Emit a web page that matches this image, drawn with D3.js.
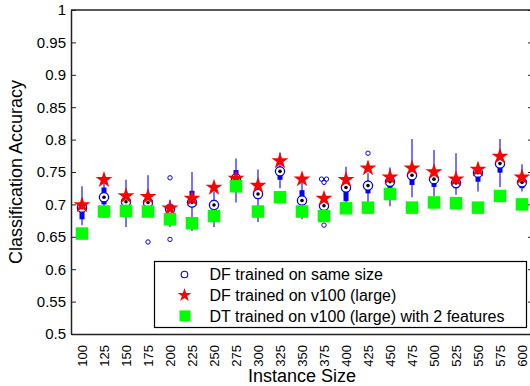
<!DOCTYPE html>
<html>
<head>
<meta charset="utf-8">
<script src="https://cdn.jsdelivr.net/npm/d3@7"></script>
<style>
  body { margin: 0; background: #fff; }
  text { font-family: "Liberation Sans", Arial, sans-serif; fill: #000; }
</style>
</head>
<body>
<script>
// instance sizes along x
const sizes = ["100","125","150","175","200","225","250","275","300","325","350",
               "375","400","425","450","475","500","525","550","575","600"];

// DF trained on same size -> box stats
const whiskerLow  = [0.668,0.679,0.665,0.681,0.665,0.659,0.665,0.703,0.673,0.725,0.677,
                     0.680,0.700,0.704,0.697,0.711,0.712,0.715,0.720,0.727,0.720];
const q1          = [0.677,0.700,0.700,0.699,0.688,0.699,0.692,0.735,0.709,0.738,0.702,
                     0.693,0.705,0.717,0.724,0.730,0.727,0.725,0.735,0.749,0.725];
const medians     = [0.695,0.711,0.704,0.703,0.693,0.703,0.699,0.740,0.716,0.751,0.706,
                     0.698,0.726,0.729,0.735,0.745,0.739,0.733,0.749,0.763,0.734];
const q3          = [0.700,0.726,0.709,0.708,0.700,0.721,0.707,0.753,0.722,0.758,0.722,
                     0.705,0.732,0.735,0.745,0.750,0.745,0.738,0.752,0.767,0.740];
const whiskerHigh = [0.728,0.748,0.738,0.745,0.707,0.750,0.720,0.771,0.754,0.780,0.733,
                     0.715,0.758,0.748,0.757,0.801,0.784,0.779,0.763,0.801,0.762];
const outliers    = [[],[],[],[0.642],[0.741,0.646],[],[],[],[],[],[],
                     [0.739,0.739,0.734,0.668],[],[0.779],[],[],[],[],[],[],[]];

// DF trained on v100 (large)
const starVals   = [0.699,0.738,0.713,0.712,0.694,0.709,0.726,0.740,0.729,0.767,0.739,
                    0.709,0.738,0.756,0.742,0.756,0.750,0.739,0.754,0.774,0.742];
// DT trained on v100 (large) with 2 features
const squareVals = [0.655,0.689,0.690,0.689,0.677,0.671,0.682,0.728,0.689,0.711,0.689,
                    0.682,0.694,0.695,0.716,0.695,0.703,0.702,0.695,0.713,0.700];

const yTicks = [0.5,0.55,0.6,0.65,0.7,0.75,0.8,0.85,0.9,0.95,1];
const legendLabels = ["DF trained on same size","DF trained on v100 (large)",
                      "DT trained on v100 (large) with 2 features"];

const width = 530, height = 386;
const plot = { left: 71, right: 533, top: 10, bottom: 334 };

const svg = d3.select("body").append("svg")
  .attr("xmlns","http://www.w3.org/2000/svg")
  .attr("width", width)
  .attr("height", height);

const x = d3.scaleBand().domain(sizes).range([plot.left, plot.right]).padding(0);
const cx = d => x(d) + x.bandwidth()/2;
const y = d3.scaleLinear().domain([0.5, 1]).range([plot.bottom, plot.top]);

// axes
const yAxis = d3.axisLeft(y).tickValues(yTicks).tickFormat(d3.format("~g"))
  .tickSizeInner(-5).tickSizeOuter(0).tickPadding(5);
const gy = svg.append("g").attr("transform", `translate(${plot.left},0)`).call(yAxis);
gy.selectAll("text").style("font-size","15px");

const yRight = d3.axisRight(y).tickValues(yTicks).tickFormat("")
  .tickSizeInner(-5).tickSizeOuter(0);
svg.append("g").attr("transform", `translate(${plot.right},0)`).call(yRight);

const xAxis = d3.axisBottom(x).tickSizeInner(0).tickSizeOuter(0).tickPadding(0);
const gx = svg.append("g").attr("transform", `translate(0,${plot.bottom})`).call(xAxis);
gx.selectAll("text")
  .style("font-size","13px")
  .attr("text-anchor","end")
  .attr("y", 0).attr("dy","0.35em")
  .attr("transform","translate(0,11) rotate(-90)")
  .attr("x", 0);

// top line to close the box
svg.append("line")
  .attr("x1", plot.left).attr("x2", plot.right)
  .attr("y1", plot.top).attr("y2", plot.top);

svg.selectAll(".domain, line")
  .attr("stroke","#222").attr("stroke-width",1.5);
svg.selectAll(".tick line").attr("stroke-width",1);

// boxplot (compact style)
const boxes = svg.append("g").attr("class","boxes");
sizes.forEach((s, i) => {
  const g = boxes.append("g");
  g.append("line")
    .attr("x1", cx(s)).attr("x2", cx(s))
    .attr("y1", y(whiskerLow[i])).attr("y2", y(whiskerHigh[i]))
    .attr("stroke","#3a3aff").attr("stroke-width",1.4);
  g.append("line")
    .attr("x1", cx(s)).attr("x2", cx(s))
    .attr("y1", y(q1[i])).attr("y2", y(q3[i]))
    .attr("stroke","#0000ff").attr("stroke-width",5);
  // outliers; repeated values get spread sideways
  const seen = {};
  outliers[i].forEach(v => {
    const n = outliers[i].filter(o => o === v).length;
    const k = seen[v] = (seen[v] || 0) + 1;
    const off = n > 1 ? (k - (n + 1)/2) * 5 : 0;
    g.append("circle")
      .attr("cx", cx(s) + off).attr("cy", y(v))
      .attr("r", 2.2)
      .attr("fill","none").attr("stroke","#0000ff").attr("stroke-width",1);
  });
  g.append("circle")
    .attr("cx", cx(s)).attr("cy", y(medians[i])).attr("r", 4.6)
    .attr("fill","#fff").attr("stroke","#0000ff").attr("stroke-width",1.3);
  g.append("circle")
    .attr("cx", cx(s)).attr("cy", y(medians[i])).attr("r", 1.8)
    .attr("fill","#000");
});

// stars
const star = d3.symbol().type(d3.symbolStar).size(88);
svg.append("g").selectAll("path").data(starVals).join("path")
  .attr("d", star)
  .attr("transform", (d, i) => `translate(${cx(sizes[i])},${y(d)})`)
  .attr("fill","#ff0000");

// squares
const sq = 12.5;
svg.append("g").selectAll("rect").data(squareVals).join("rect")
  .attr("x", (d, i) => cx(sizes[i]) - sq/2)
  .attr("y", d => y(d) - sq/2)
  .attr("width", sq).attr("height", sq)
  .attr("fill","#00ff00");

// legend
const leg = svg.append("g").attr("transform","translate(154.5,261.5)");
leg.append("rect").attr("width",372).attr("height",66)
  .attr("fill","#fff").attr("stroke","#000").attr("stroke-width",1.2);
const rowY = i => 13 + i*20.7;
leg.append("circle").attr("cx",30).attr("cy",rowY(0)).attr("r",3.3)
  .attr("fill","none").attr("stroke","#0000ff").attr("stroke-width",1.1);
leg.append("path").attr("d", d3.symbol().type(d3.symbolStar).size(60))
  .attr("transform",`translate(30,${rowY(1)})`).attr("fill","#ff0000");
leg.append("rect").attr("x",25).attr("y",rowY(2)-5.5).attr("width",11).attr("height",11)
  .attr("fill","#00ff00");
leg.selectAll("text.lbl").data(legendLabels).join("text")
  .attr("class","lbl")
  .attr("x",55).attr("y",(d,i) => rowY(i)).attr("dy","0.36em")
  .style("font-size","16px")
  .text(d => d);

// axis titles
svg.append("text")
  .attr("x", (plot.left + plot.right)/2).attr("y", 382)
  .attr("text-anchor","middle").style("font-size","18px")
  .text("Instance Size");
svg.append("text")
  .attr("transform", `translate(22,${(plot.top + plot.bottom)/2}) rotate(-90)`)
  .attr("text-anchor","middle").style("font-size","18px")
  .text("Classification Accuracy");
</script>
</body>
</html>
